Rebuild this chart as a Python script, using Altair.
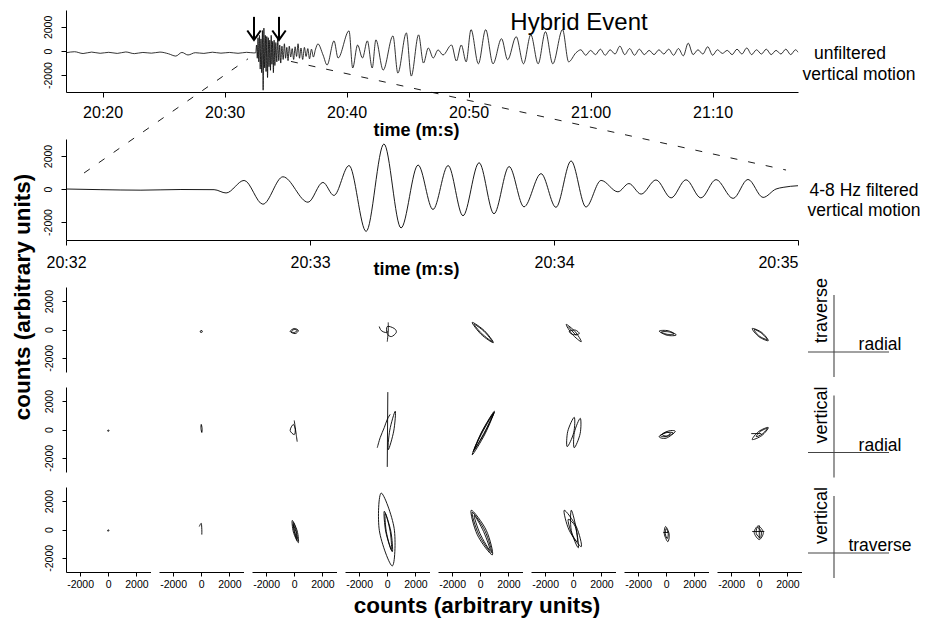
import altair as alt
import pandas as pd

FONT = "Liberation Sans"
TIME_LABEL = "floor(datum.value / 60) + ':' + (datum.value % 60 < 10 ? '0' : '') + (datum.value % 60)"
NUM_LABEL = "'' + datum.value"

# ---------------- unfiltered vertical motion (time = seconds after 20:00) ----------------
top_t_pre = [1217.0, 1217.7, 1218.4, 1219.1, 1219.8, 1220.5, 1221.2, 1221.9, 1222.6, 1223.3,
             1224.0, 1224.7, 1225.4, 1226.0, 1226.5, 1227.0, 1227.6, 1228.3, 1229.0, 1229.7,
             1230.4, 1231.1, 1231.8, 1232.4]
top_v_pre = [-150, -60, -210, -90, -190, -110, -200, -80, -220, -120,
             -180, -90, -230, -420, -120, -330, -140, -200, -100, -180,
             -120, -190, -110, -160]

top_t_burst = [1232.55, 1232.62, 1232.68, 1232.74, 1232.80, 1232.86, 1232.92, 1232.98, 1233.04, 1233.10,
               1233.16, 1233.22, 1233.28, 1233.34, 1233.40, 1233.46, 1233.52, 1233.58, 1233.64, 1233.70,
               1233.76, 1233.82, 1233.88, 1233.94, 1234.00, 1234.06, 1234.12, 1234.20, 1234.28, 1234.36,
               1234.44, 1234.52, 1234.60, 1234.70, 1234.80, 1234.90, 1235.00, 1235.10, 1235.20, 1235.30,
               1235.42, 1235.54, 1235.66, 1235.78, 1235.90, 1236.02, 1236.14, 1236.26, 1236.40, 1236.54,
               1236.68, 1236.82, 1236.96, 1237.12, 1237.28, 1237.44]
top_v_burst = [-150, 500, -600, 1100, -900, 1300, -1500, 1000, -1800, 1700,
               -3250, 1900, -1400, 1300, -1700, 1200, -2200, 1100, -1300, 900,
               -1600, 1300, -1100, 800, -1800, 900, -1200, 700, -900, 1000,
               -800, 500, -1000, 400, -700, 600, -600, 300, -800, 400,
               -500, 200, -700, 350, -450, 600, -600, 250, -700, 300,
               -450, 200, -650, 150, -500, 100]

top_t_main = [1237.65, 1238.07, 1238.40, 1238.97, 1239.30, 1240.20, 1240.50, 1240.90, 1241.30, 1241.70,
              1242.10, 1242.40, 1243.00, 1243.80, 1244.20, 1244.90, 1245.30, 1245.90, 1246.30, 1246.70,
              1247.10, 1247.50, 1247.90, 1248.60, 1249.00, 1249.40, 1249.80, 1250.20, 1250.80, 1251.40,
              1252.00, 1252.70, 1253.20, 1253.90, 1254.50, 1255.10, 1255.70, 1256.30, 1256.90, 1257.70,
              1258.20, 1258.80]
top_v_main = [590, -330, -1160, 840, -580, 1670, -1410, 500, -580, 840,
              -1410, 920, -1580, 1250, -1830, 1500, -2080, 1340, -1000, 250,
              -580, 90, -330, 500, -830, 500, -900, 1770, -1060, 1770,
              -1060, 1020, -730, 1190, -1060, 1350, -1060, 1600, -1060, 1770,
              -900, -150]

top_t_tail = [1259.2, 1259.6, 1260.0, 1260.4, 1260.8, 1261.2, 1261.6, 1262.0, 1262.4, 1262.8,
              1263.2, 1263.6, 1264.0, 1264.4, 1264.8, 1265.2, 1265.6, 1266.0, 1266.4, 1266.8,
              1267.2, 1267.6, 1268.0, 1268.4, 1268.8, 1269.2, 1269.6, 1270.0, 1270.4, 1270.8,
              1271.2, 1271.6, 1272.0, 1272.4, 1272.8, 1273.2, 1273.6, 1274.0, 1274.4, 1274.8,
              1275.2, 1275.6, 1276.0, 1276.4, 1276.8, 1277.0]
top_v_tail = [100, -350, 50, -300, 150, -350, 100, -250, 400, -300,
              200, -350, 150, -300, 50, -300, 100, -250, 150, -350,
              200, -400, 650, -300, 100, -250, 350, -350, 100, -200,
              50, -300, 150, -250, 250, -300, 100, -250, 150, -300,
              50, -250, 150, -300, 100, -100]

# arrows marking the two arrivals
arrow_t = [1232.41, 1234.46]

# ---------------- 4-8 Hz filtered vertical motion ----------------
mid_t = [1232.000, 1232.143, 1232.307, 1232.471, 1232.607, 1232.656, 1232.730, 1232.807, 1232.889, 1232.992,
         1233.053, 1233.098, 1233.160, 1233.230, 1233.303, 1233.373, 1233.443, 1233.504, 1233.566, 1233.627,
         1233.693, 1233.754, 1233.816, 1233.877, 1233.947, 1234.008, 1234.070, 1234.131, 1234.193, 1234.262,
         1234.307, 1234.357, 1234.418, 1234.480, 1234.541, 1234.602, 1234.664, 1234.734, 1234.795, 1234.857,
         1234.910, 1234.939, 1235.000]
mid_v = [0, -40, -70, -30, -40, -240, 520, -920, 740, -800,
         400, -390, 1420, -2570, 2730, -2360, 1450, -1240, 1420, -1620,
         1590, -1500, 1360, -1080, 930, -1110, 1700, -1090, 520, -170,
         330, -310, 550, -540, 560, -540, 570, -570, 580, -510,
         0, 100, 200]

# dashed zoom connectors (drawn in the filtered panel's coordinates)
conn_id = ["left", "left", "right", "right"]
conn_t = [1232.746, 1232.074, 1232.922, 1234.951]
conn_v = [7890, 970, 7730, 1150]

# ---------------- particle motion (counts) : (column, kind, xs, ys) ----------------
pm_row1 = [  # traverse vs radial
    (1, "open", [0], [0]),
    (2, "loop", [-70, 40, 70, -40], [-110, -70, -180, -210]),
    (3, "loop", [-290, 0, 290, 70], [-140, 70, -70, -290]),
    (3, "loop", [-210, 0, 210, 0], [-140, 0, -70, -210]),
    (4, "loop", [0, 500, 640, 290, 0], [210, 70, -210, -500, -290]),
    (4, "open", [70, 70, 0], [500, -140, -860]),
    (4, "open", [-570, -430, -140, 70], [210, -70, -210, -140]),
    (5, "loop", [-570, 300, 930, 60], [500, -90, -930, -340]),
    (5, "loop", [-430, 270, 860, 110], [360, -130, -860, -290]),
    (6, "loop", [-500, 140, 570, -70], [360, -160, -860, -340]),
    (6, "loop", [-290, 140, 430, 0], [-140, -40, -290, -360]),
    (6, "open", [-360, 210], [210, -430]),
    (7, "loop", [-500, 140, 710, 70], [-110, -90, -390, -410]),
    (7, "loop", [-360, 140, 570, 70], [-180, -160, -320, -340]),
    (8, "loop", [-500, 180, 640, -40], [70, -210, -790, -500]),
    (8, "loop", [-360, 140, 570, 0], [0, -250, -710, -460]),
]
pm_row2 = [  # vertical vs radial
    (1, "loop", [-40, 40, 50, -30], [-60, -40, -110, -120]),
    (2, "loop", [0, 60, 40, -20], [360, 70, -210, 70]),
    (3, "loop", [-70, 70, 0, -290], [360, 0, -360, -70]),
    (3, "open", [0, 70, 140, 210], [640, 140, -360, -860]),
    (4, "open", [40, 0], [2640, -2640]),
    (4, "loop", [70, 460, 570, 180], [-1430, -110, 1290, -40]),
    (4, "open", [-710, -500, -210, 0, 210], [-1290, -570, 140, 710, 1070]),
    (5, "loop", [-570, 340, 1000, 90], [-1790, -310, 1290, -190]),
    (5, "loop", [-430, 340, 930, 160], [-1430, -190, 1140, -100]),
    (5, "loop", [-500, 250, 1000, 180], [-1570, -290, 1210, -140]),
    (6, "loop", [-430, 30, 70, -390], [-1210, -230, 860, -130]),
    (6, "loop", [70, 490, 500, 80], [-1290, -290, 790, -210]),
    (7, "loop", [-500, 140, 640, 0], [-500, -110, -140, -610]),
    (7, "loop", [-430, 70, 500, 0], [-430, -210, -250, -500]),
    (7, "loop", [-290, 0, 290, 0], [-360, -180, -290, -460]),
    (8, "loop", [-500, 180, 640, -40], [-710, -430, 140, -140]),
    (8, "loop", [-210, 210, 570, 70], [-500, -320, 70, -140]),
    (8, "open", [-570, 140], [-290, -290]),
]
pm_row3 = [  # vertical vs traverse
    (1, "loop", [-30, 40, 40, -40], [-40, -30, -100, -110]),
    (2, "open", [-140, 0, 40, 40], [210, 430, 0, -360]),
    (3, "loop", [-140, 210, 290, -60], [640, -110, -930, -180]),
    (3, "loop", [-70, 140, 210, 0], [500, -70, -790, -140]),
    (3, "loop", [-70, 110, 210, 40], [360, -140, -640, -210]),
    (4, "loop", [-430, 490, 360, -560], [2570, 80, -2570, -80]),
    (4, "loop", [-210, 250, 360, -100], [1290, -110, -1570, -180]),
    (4, "loop", [-140, 210, 290, -70], [1140, -140, -1430, -140]),
    (5, "loop", [-640, 430, 860, -210], [1360, -60, -1790, -370]),
    (5, "loop", [-570, 340, 790, -120], [1210, -110, -1640, -320]),
    (5, "loop", [-430, 240, 710, -20], [1000, -150, -1500, -280]),
    (6, "loop", [-640, 220, 570, -290], [1360, 190, -1210, -50]),
    (6, "loop", [-140, 210, 360, -140], [1360, 70, -1290, -70]),
    (6, "loop", [-360, 140, 290, -140], [710, 210, -860, -210]),
    (7, "loop", [-40, 210, 110, -140], [210, -340, -860, -300]),
    (7, "loop", [0, 140, 70, -70], [70, -290, -640, -290]),
    (7, "open", [-210, 140], [-210, -210]),
    (8, "loop", [-70, 290, 0, -360], [250, -210, -710, -210]),
    (8, "loop", [-140, 140, 70, -210], [140, -140, -570, -290]),
    (8, "open", [-500, 360], [-140, -140]),
    (8, "open", [0, 0], [290, -640]),
]

icon_vertical = ["traverse", "vertical", "vertical"]
icon_horizontal = ["radial", "radial", "traverse"]


# ---------------- helpers ----------------
def note(text, x, y, size, bold=False, angle=0, align="center", baseline="middle"):
    return alt.Chart(pd.DataFrame({"s": [text]})).mark_text(
        font=FONT, fontSize=size, fontWeight="bold" if bold else "normal",
        angle=angle, align=align, baseline=baseline, color="black"
    ).encode(x=alt.value(x), y=alt.value(y), text="s:N")


def time_axis(values, title_y, pad, label_align="center"):
    return alt.Axis(values=values, labelExpr=TIME_LABEL, title="time (m:s)",
                    titleX=350, titleY=title_y, titleAlign="center", titleBaseline="middle",
                    titleFontSize=18, titleFontWeight="bold", labelFontSize=16,
                    tickSize=5, labelPadding=pad, labelFlush=False, labelAlign=label_align)


def count_y_axis(size, tick, pad):
    return alt.Axis(values=[-2000, 0, 2000], labelExpr=NUM_LABEL, title=None, labelAngle=270,
                    labelAlign="center", labelBaseline="bottom", labelFontSize=size,
                    tickSize=tick, labelPadding=pad)


# ---------------- top panel ----------------
top_df = pd.DataFrame({"t": top_t_pre + top_t_burst + top_t_main + top_t_tail,
                       "v": top_v_pre + top_v_burst + top_v_main + top_v_tail})
x_top = alt.X("t:Q", scale=alt.Scale(domain=[1217, 1277], nice=False, zero=False),
              axis=time_axis([1220, 1230, 1240, 1250, 1260, 1270], 38, 7))
y_top = alt.Y("v:Q", scale=alt.Scale(domain=[-3400, 3400], nice=False),
              axis=count_y_axis(10.5, 5, 8))
top_trace = alt.Chart(top_df).mark_line(interpolate="monotone", color="black",
                                        strokeWidth=0.8).encode(x=x_top, y=y_top)

arrow_rows = []
for i, t in enumerate(arrow_t):
    arrow_rows += [dict(g=f"s{i}", k=0, t=t, v=2830), dict(g=f"s{i}", k=1, t=t, v=1000)]
    arrow_rows += [dict(g=f"h{i}", k=0, t=t - 0.55, v=1700), dict(g=f"h{i}", k=1, t=t, v=920),
                   dict(g=f"h{i}", k=2, t=t + 0.55, v=1700)]
arrows = alt.Chart(pd.DataFrame(arrow_rows)).mark_line(color="black", strokeWidth=2).encode(
    x=x_top, y=y_top, detail="g:N", order="k:Q")

top = alt.layer(
    top_trace, arrows,
    note("Hybrid Event", 513, 12.5, 24),
    note("unfiltered", 784, 44, 17.5),
    note("vertical motion", 793, 65, 17.5),
).properties(width=732, height=82)

# ---------------- middle panel ----------------
mid_df = pd.DataFrame({"t": mid_t, "v": mid_v})
x_mid = alt.X("t:Q", scale=alt.Scale(domain=[1232, 1235], nice=False, zero=False),
              axis=time_axis([1232, 1233, 1234, 1235], 29, 9,
                             label_align={"condition": {"test": "datum.value >= 1235", "value": "right"},
                                          "value": "center"}))
y_mid = alt.Y("v:Q", scale=alt.Scale(domain=[-3090, 3030], nice=False),
              axis=count_y_axis(10.5, 5, 8))
mid_trace = alt.Chart(mid_df).mark_line(interpolate="monotone", color="black",
                                        strokeWidth=0.9).encode(x=x_mid, y=y_mid)
conn = alt.Chart(pd.DataFrame({"g": conn_id, "t": conn_t, "v": conn_v})).mark_line(
    color="black", strokeWidth=0.9, strokeDash=[7, 11], clip=False
).encode(x=x_mid, y=y_mid, detail="g:N")

mid_layers = [mid_trace, conn,
              note("4-8 Hz filtered", 798, 52, 17.5),
              note("vertical motion", 798, 72, 17.5),
              note("counts (arbitrary units)", -43, 158, 22.5, bold=True, angle=270),
              note("counts (arbitrary units)", 411, 467, 22.5, bold=True)]

one = pd.DataFrame({"k": [0]})
for i, (vl, hl) in enumerate(zip(icon_vertical, icon_horizontal)):
    dy = i * 100.5
    hy = 213 + dy
    mid_layers.append(alt.Chart(one).mark_rule(color="#444", strokeWidth=1.1).encode(
        x=alt.value(768), y=alt.value(156 + dy), y2=alt.value(238 + dy)))
    mid_layers.append(alt.Chart(one).mark_rule(color="#444", strokeWidth=1.1).encode(
        x=alt.value(742), x2=alt.value(823), y=alt.value(hy)))
    mid_layers.append(note(vl, 756, hy - 9, 18, angle=270, align="left"))
    mid_layers.append(note(hl, 814, hy - 2, 17.5, baseline="alphabetic"))

middle = alt.layer(*mid_layers).properties(width=732, height=101)

# ---------------- particle motion grid ----------------
pm_records = []
for r, entries in enumerate([pm_row1, pm_row2, pm_row3], start=1):
    for j, (c, kind, xs, ys) in enumerate(entries):
        for k, (x, y) in enumerate(zip(xs, ys)):
            pm_records.append(dict(row=r, col=c, kind=kind, loop=f"{r}-{j}", k=k, x=x, y=y))
pm_df = pd.DataFrame(pm_records)

x_pm = alt.X("x:Q", scale=alt.Scale(domain=[-3000, 3000], nice=False),
             axis=alt.Axis(values=[-2000, 0, 2000], labelExpr=NUM_LABEL, title=None,
                           labelFontSize=10.5, tickSize=4, labelPadding=3))
y_pm = alt.Y("y:Q", scale=alt.Scale(domain=[-3000, 3000], nice=False),
             axis=count_y_axis(10.5, 4, 8))
loops = alt.Chart().mark_line(interpolate="cardinal-closed", color="black", strokeWidth=0.9).encode(
    x=x_pm, y=y_pm, detail="loop:N", order="k:Q").transform_filter(alt.datum.kind == "loop")
opens = alt.Chart().mark_line(interpolate="cardinal", color="black", strokeWidth=0.9).encode(
    x=x_pm, y=y_pm, detail="loop:N", order="k:Q").transform_filter(alt.datum.kind == "open")

grid = alt.layer(loops, opens, data=pm_df).properties(width=84.5, height=85).facet(
    row=alt.Row("row:O", header=alt.Header(labels=False, title=None)),
    column=alt.Column("col:O", header=alt.Header(labels=False, title=None)),
    spacing={"row": 15, "column": 8},
)

chart = alt.vconcat(top, middle, grid, spacing=47, bounds="flush").properties(
    padding={"left": 3, "top": 2, "right": 0, "bottom": 0}
).configure_view(stroke=None).configure_axis(
    domainColor="black", tickColor="black", labelColor="black", titleColor="black",
    labelFont=FONT, titleFont=FONT, grid=False, domainWidth=1, tickWidth=1
)

chart.save("out.html", embed_options={"renderer": "svg", "actions": False})
